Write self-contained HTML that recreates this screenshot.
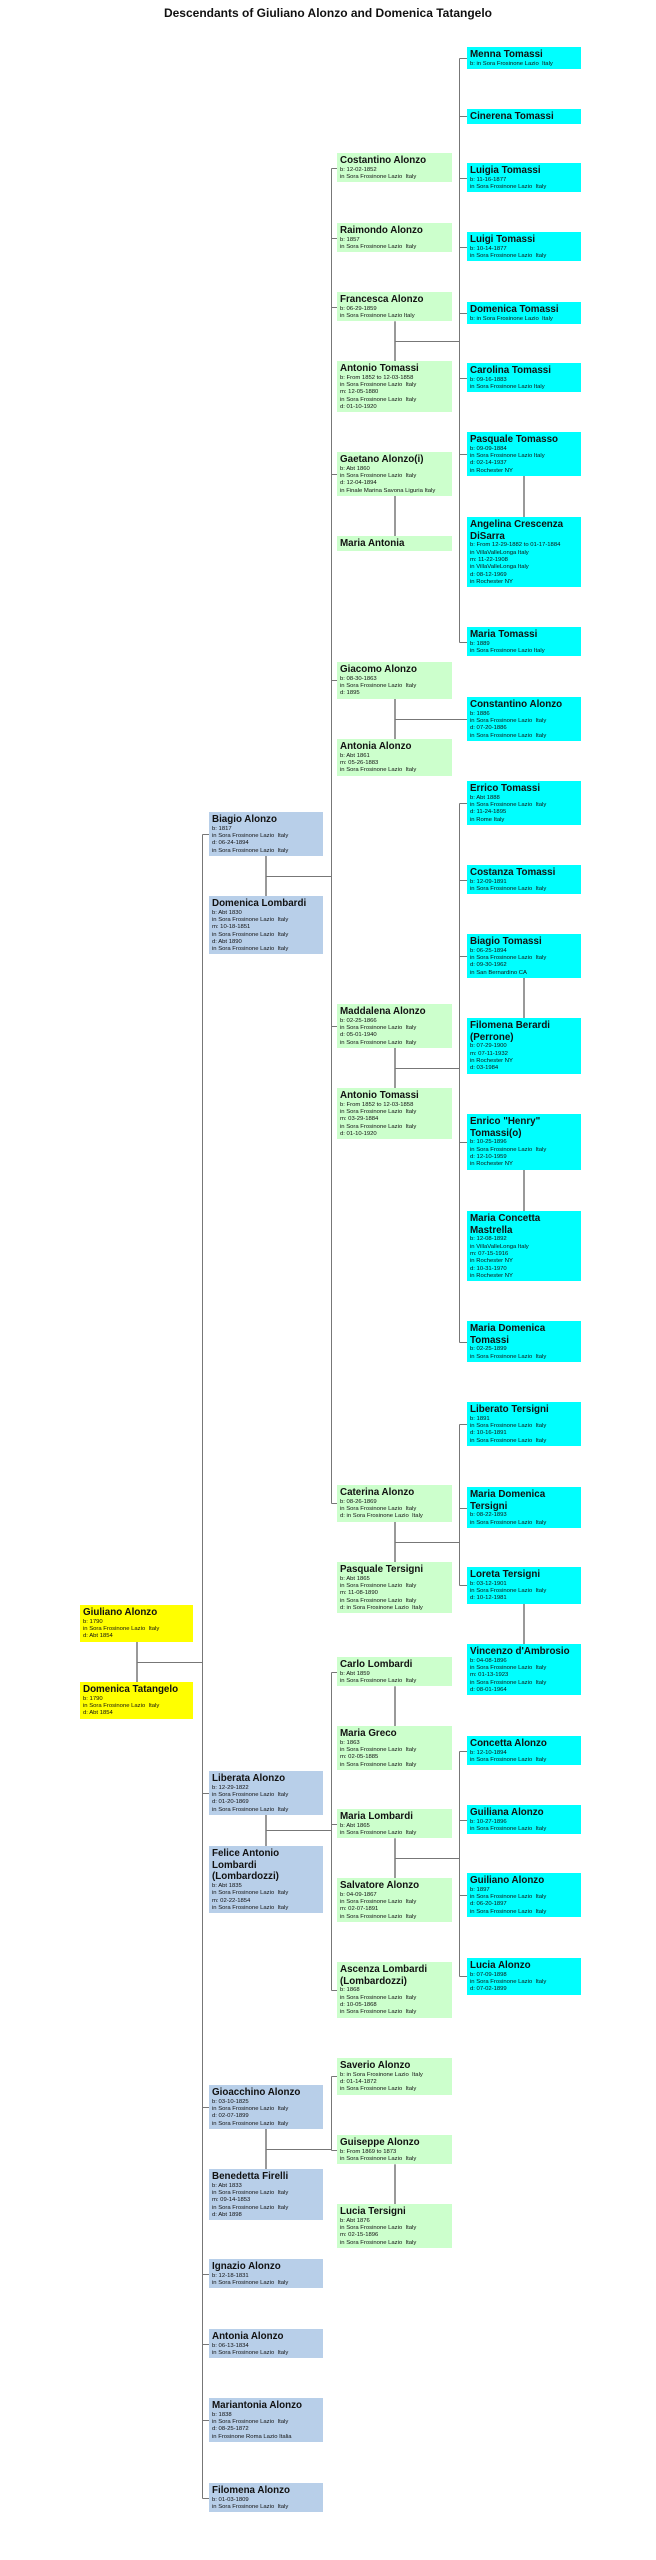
<!DOCTYPE html>
<html><head><meta charset="utf-8">
<style>
html,body{margin:0;padding:0;background:#fff;}
body{width:656px;height:2560px;position:relative;overflow:hidden;font-family:"Liberation Sans",Arial,sans-serif;color:#111;}
h1{position:absolute;top:6px;left:0;width:656px;text-align:center;font-size:12px;font-weight:bold;margin:0;line-height:14px;}
.b{position:absolute;box-sizing:border-box;padding:2px 3px 1px 3px;white-space:nowrap;}
.b .n{font-weight:bold;font-size:9.8px;line-height:11.7px;}
.b .d{font-size:5.9px;line-height:7.3px;white-space:pre;}
.y{left:80px;width:113px;background:#ffff00;}
.bl{left:209px;width:114px;background:#b8cfe9;}
.g{left:337px;width:115px;background:#ccffcc;}
.c{left:467px;width:114px;background:#00ffff;}
svg{position:absolute;left:0;top:0;}
</style></head><body>
<svg id="s" width="656" height="2560"></svg>
<h1>Descendants of Giuliano Alonzo and Domenica Tatangelo</h1>

<!-- yellow -->
<div class="b y" id="y1" style="top:1605px"><div class="n">Giuliano Alonzo</div><div class="d">b: 1790
in Sora Frosinone Lazio  Italy
d: Abt 1854</div></div>
<div class="b y" id="y2" style="top:1682px"><div class="n">Domenica Tatangelo</div><div class="d">b: 1790
in Sora Frosinone Lazio  Italy
d: Abt 1854</div></div>

<!-- blue -->
<div class="b bl" id="b1" style="top:812px"><div class="n">Biagio Alonzo</div><div class="d">b: 1817
in Sora Frosinone Lazio  Italy
d: 06-24-1894
in Sora Frosinone Lazio  Italy</div></div>
<div class="b bl" id="b1s" style="top:896px"><div class="n">Domenica Lombardi</div><div class="d">b: Abt 1830
in Sora Frosinone Lazio  Italy
m: 10-18-1851
in Sora Frosinone Lazio  Italy
d: Abt 1890
in Sora Frosinone Lazio  Italy</div></div>
<div class="b bl" id="b2" style="top:1771px"><div class="n">Liberata Alonzo</div><div class="d">b: 12-29-1822
in Sora Frosinone Lazio  Italy
d: 01-20-1869
in Sora Frosinone Lazio  Italy</div></div>
<div class="b bl" id="b2s" style="top:1846px"><div class="n">Felice Antonio<br>Lombardi<br>(Lombardozzi)</div><div class="d">b: Abt 1835
in Sora Frosinone Lazio  Italy
m: 02-22-1854
in Sora Frosinone Lazio  Italy</div></div>
<div class="b bl" id="b3" style="top:2085px"><div class="n">Gioacchino Alonzo</div><div class="d">b: 03-10-1825
in Sora Frosinone Lazio  Italy
d: 02-07-1899
in Sora Frosinone Lazio  Italy</div></div>
<div class="b bl" id="b3s" style="top:2169px"><div class="n">Benedetta Firelli</div><div class="d">b: Abt 1833
in Sora Frosinone Lazio  Italy
m: 09-14-1853
in Sora Frosinone Lazio  Italy
d: Abt 1898</div></div>
<div class="b bl" id="b4" style="top:2259px"><div class="n">Ignazio Alonzo</div><div class="d">b: 12-18-1831
in Sora Frosinone Lazio  Italy</div></div>
<div class="b bl" id="b5" style="top:2329px"><div class="n">Antonia Alonzo</div><div class="d">b: 06-13-1834
in Sora Frosinone Lazio  Italy</div></div>
<div class="b bl" id="b6" style="top:2398px"><div class="n">Mariantonia Alonzo</div><div class="d">b: 1838
in Sora Frosinone Lazio  Italy
d: 08-25-1872
in Frosinone Roma Lazio Italia</div></div>
<div class="b bl" id="b7" style="top:2483px"><div class="n">Filomena Alonzo</div><div class="d">b: 01-03-1809
in Sora Frosinone Lazio  Italy</div></div>

<!-- green -->
<div class="b g" id="g1" style="top:153px"><div class="n">Costantino Alonzo</div><div class="d">b: 12-02-1852
in Sora Frosinone Lazio  Italy</div></div>
<div class="b g" id="g2" style="top:223px"><div class="n">Raimondo Alonzo</div><div class="d">b: 1857
in Sora Frosinone Lazio  Italy</div></div>
<div class="b g" id="g3" style="top:292px"><div class="n">Francesca Alonzo</div><div class="d">b: 06-29-1859
in Sora Frosinone Lazio Italy</div></div>
<div class="b g" id="g3s" style="top:361px"><div class="n">Antonio Tomassi</div><div class="d">b: From 1852 to 12-03-1858
in Sora Frosinone Lazio  Italy
m: 12-05-1880
in Sora Frosinone Lazio  Italy
d: 01-10-1920</div></div>
<div class="b g" id="g4" style="top:452px"><div class="n">Gaetano Alonzo(i)</div><div class="d">b: Abt 1860
in Sora Frosinone Lazio  Italy
d: 12-04-1894
in Finale Marina Savona Liguria Italy</div></div>
<div class="b g" id="g4s" style="top:536px"><div class="n">Maria Antonia</div></div>
<div class="b g" id="g5" style="top:662px"><div class="n">Giacomo Alonzo</div><div class="d">b: 08-30-1863
in Sora Frosinone Lazio  Italy
d: 1895</div></div>
<div class="b g" id="g5s" style="top:739px"><div class="n">Antonia Alonzo</div><div class="d">b: Abt 1861
m: 05-26-1883
in Sora Frosinone Lazio  Italy</div></div>
<div class="b g" id="g6" style="top:1004px"><div class="n">Maddalena Alonzo</div><div class="d">b: 02-25-1866
in Sora Frosinone Lazio  Italy
d: 05-01-1940
in Sora Frosinone Lazio  Italy</div></div>
<div class="b g" id="g6s" style="top:1088px"><div class="n">Antonio Tomassi</div><div class="d">b: From 1852 to 12-03-1858
in Sora Frosinone Lazio  Italy
m: 03-29-1884
in Sora Frosinone Lazio  Italy
d: 01-10-1920</div></div>
<div class="b g" id="g7" style="top:1485px"><div class="n">Caterina Alonzo</div><div class="d">b: 08-26-1869
in Sora Frosinone Lazio  Italy
d: in Sora Frosinone Lazio  Italy</div></div>
<div class="b g" id="g7s" style="top:1562px"><div class="n">Pasquale Tersigni</div><div class="d">b: Abt 1865
in Sora Frosinone Lazio  Italy
m: 11-08-1890
in Sora Frosinone Lazio  Italy
d: in Sora Frosinone Lazio  Italy</div></div>
<div class="b g" id="h1" style="top:1657px"><div class="n">Carlo Lombardi</div><div class="d">b: Abt 1859
in Sora Frosinone Lazio  Italy</div></div>
<div class="b g" id="h1s" style="top:1726px"><div class="n">Maria Greco</div><div class="d">b: 1863
in Sora Frosinone Lazio  Italy
m: 02-05-1885
in Sora Frosinone Lazio  Italy</div></div>
<div class="b g" id="h2" style="top:1809px"><div class="n">Maria Lombardi</div><div class="d">b: Abt 1865
in Sora Frosinone Lazio  Italy</div></div>
<div class="b g" id="h2s" style="top:1878px"><div class="n">Salvatore Alonzo</div><div class="d">b: 04-09-1867
in Sora Frosinone Lazio  Italy
m: 02-07-1891
in Sora Frosinone Lazio  Italy</div></div>
<div class="b g" id="h3" style="top:1962px"><div class="n">Ascenza Lombardi<br>(Lombardozzi)</div><div class="d">b: 1868
in Sora Frosinone Lazio  Italy
d: 10-05-1868
in Sora Frosinone Lazio  Italy</div></div>
<div class="b g" id="k1" style="top:2058px"><div class="n">Saverio Alonzo</div><div class="d">b: in Sora Frosinone Lazio  Italy
d: 01-14-1872
in Sora Frosinone Lazio  Italy</div></div>
<div class="b g" id="k2" style="top:2135px"><div class="n">Guiseppe Alonzo</div><div class="d">b: From 1869 to 1873
in Sora Frosinone Lazio  Italy</div></div>
<div class="b g" id="k2s" style="top:2204px"><div class="n">Lucia Tersigni</div><div class="d">b: Abt 1876
in Sora Frosinone Lazio  Italy
m: 02-15-1896
in Sora Frosinone Lazio  Italy</div></div>

<!-- cyan -->
<div class="b c" id="c1" style="top:47px"><div class="n">Menna Tomassi</div><div class="d">b: in Sora Frosinone Lazio  Italy</div></div>
<div class="b c" id="c2" style="top:109px"><div class="n">Cinerena Tomassi</div></div>
<div class="b c" id="c3" style="top:163px"><div class="n">Luigia Tomassi</div><div class="d">b: 11-16-1877
in Sora Frosinone Lazio  Italy</div></div>
<div class="b c" id="c4" style="top:232px"><div class="n">Luigi Tomassi</div><div class="d">b: 10-14-1877
in Sora Frosinone Lazio  Italy</div></div>
<div class="b c" id="c5" style="top:302px"><div class="n">Domenica Tomassi</div><div class="d">b: in Sora Frosinone Lazio  Italy</div></div>
<div class="b c" id="c6" style="top:363px"><div class="n">Carolina Tomassi</div><div class="d">b: 09-16-1883
in Sora Frosinone Lazio Italy</div></div>
<div class="b c" id="c7" style="top:432px"><div class="n">Pasquale Tomasso</div><div class="d">b: 09-09-1884
in Sora Frosinone Lazio Italy
d: 02-14-1937
in Rochester NY</div></div>
<div class="b c" id="c7s" style="top:517px"><div class="n">Angelina Crescenza<br>DiSarra</div><div class="d">b: From 12-29-1882 to 01-17-1884
in VillaValleLonga Italy
m: 11-22-1908
in VillaValleLonga Italy
d: 08-12-1969
in Rochester NY</div></div>
<div class="b c" id="c8" style="top:627px"><div class="n">Maria Tomassi</div><div class="d">b: 1889
in Sora Frosinone Lazio Italy</div></div>
<div class="b c" id="c9" style="top:697px"><div class="n">Constantino Alonzo</div><div class="d">b: 1886
in Sora Frosinone Lazio  Italy
d: 07-20-1886
in Sora Frosinone Lazio  Italy</div></div>
<div class="b c" id="d1" style="top:781px"><div class="n">Errico Tomassi</div><div class="d">b: Abt 1888
in Sora Frosinone Lazio  Italy
d: 11-24-1895
in Rome Italy</div></div>
<div class="b c" id="d2" style="top:865px"><div class="n">Costanza Tomassi</div><div class="d">b: 12-09-1891
in Sora Frosinone Lazio  Italy</div></div>
<div class="b c" id="d3" style="top:934px"><div class="n">Biagio Tomassi</div><div class="d">b: 06-25-1894
in Sora Frosinone Lazio  Italy
d: 09-30-1962
in San Bernardino CA</div></div>
<div class="b c" id="d3s" style="top:1018px"><div class="n">Filomena Berardi<br>(Perrone)</div><div class="d">b: 07-29-1900
m: 07-11-1932
in Rochester NY
d: 03-1984</div></div>
<div class="b c" id="d4" style="top:1114px"><div class="n">Enrico "Henry"<br>Tomassi(o)</div><div class="d">b: 10-25-1896
in Sora Frosinone Lazio  Italy
d: 12-10-1959
in Rochester NY</div></div>
<div class="b c" id="d4s" style="top:1211px"><div class="n">Maria Concetta<br>Mastrella</div><div class="d">b: 12-08-1892
in VillaValleLonga Italy
m: 07-15-1916
in Rochester NY
d: 10-31-1970
in Rochester NY</div></div>
<div class="b c" id="d5" style="top:1321px"><div class="n">Maria Domenica<br>Tomassi</div><div class="d">b: 02-25-1899
in Sora Frosinone Lazio  Italy</div></div>
<div class="b c" id="e1" style="top:1402px"><div class="n">Liberato Tersigni</div><div class="d">b: 1891
in Sora Frosinone Lazio  Italy
d: 10-16-1891
in Sora Frosinone Lazio  Italy</div></div>
<div class="b c" id="e2" style="top:1487px"><div class="n">Maria Domenica<br>Tersigni</div><div class="d">b: 08-22-1893
in Sora Frosinone Lazio  Italy</div></div>
<div class="b c" id="e3" style="top:1567px"><div class="n">Loreta Tersigni</div><div class="d">b: 03-12-1901
in Sora Frosinone Lazio  Italy
d: 10-12-1981</div></div>
<div class="b c" id="e3s" style="top:1644px"><div class="n">Vincenzo d'Ambrosio</div><div class="d">b: 04-08-1896
in Sora Frosinone Lazio  Italy
m: 01-13-1923
in Sora Frosinone Lazio  Italy
d: 08-01-1964</div></div>
<div class="b c" id="f1" style="top:1736px"><div class="n">Concetta Alonzo</div><div class="d">b: 12-10-1894
in Sora Frosinone Lazio  Italy</div></div>
<div class="b c" id="f2" style="top:1805px"><div class="n">Guiliana Alonzo</div><div class="d">b: 10-27-1896
in Sora Frosinone Lazio  Italy</div></div>
<div class="b c" id="f3" style="top:1873px"><div class="n">Guiliano Alonzo</div><div class="d">b: 1897
in Sora Frosinone Lazio  Italy
d: 06-20-1897
in Sora Frosinone Lazio  Italy</div></div>
<div class="b c" id="f4" style="top:1958px"><div class="n">Lucia Alonzo</div><div class="d">b: 07-09-1898
in Sora Frosinone Lazio  Italy
d: 07-02-1899</div></div>

<script>
(function(){
var s=document.getElementById('s'),NS='http://www.w3.org/2000/svg';
function R(id){return document.getElementById(id).getBoundingClientRect();}
function L(x1,y1,x2,y2,w,c){var l=document.createElementNS(NS,'line');l.setAttribute('x1',x1);l.setAttribute('y1',y1);l.setAttribute('x2',x2);l.setAttribute('y2',y2);l.setAttribute('stroke',c);l.setAttribute('stroke-width',w);s.appendChild(l);}
var couples=[['y1','y2'],['b1','b1s'],['b2','b2s'],['b3','b3s'],['g3','g3s'],['g4','g4s'],['g5','g5s'],['g6','g6s'],['g7','g7s'],['h1','h1s'],['h2','h2s'],['k2','k2s'],['c7','c7s'],['d3','d3s'],['d4','d4s'],['e3','e3s']];
couples.forEach(function(p){var a=R(p[0]),b=R(p[1]);var x=Math.round(a.left+a.width/2);L(x,a.bottom,x,b.top,2,'#999');});
var fams=[
 [['y1','y2'],202,['b1','b2','b3','b4','b5','b6','b7']],
 [['b1','b1s'],331,['g1','g2','g3','g4','g5','g6','g7']],
 [['b2','b2s'],331,['h1','h2','h3']],
 [['b3','b3s'],331,['k1','k2']],
 [['g3','g3s'],459,['c1','c2','c3','c4','c5','c6','c7','c8']],
 [['g5','g5s'],null,['c9']],
 [['g6','g6s'],459,['d1','d2','d3','d4','d5']],
 [['g7','g7s'],459,['e1','e2','e3']],
 [['h2','h2s'],459,['f1','f2','f3','f4']]
];
fams.forEach(function(f){
 var a=R(f[0][0]),b=R(f[0][1]);var cx=Math.round(a.left+a.width/2);var my=Math.round((a.bottom+b.top)/2)+0.5;
 if(f[1]===null){var c=R(f[2][0]);L(cx,my,c.left,my,1,'#777');return;}
 var lx=f[1]+0.5;L(cx,my,lx,my,1,'#777');
 var mn=my,mx=my;
 f[2].forEach(function(id){var c=R(id);var y=Math.round(c.top+c.height/2)+0.5;mn=Math.min(mn,y);mx=Math.max(mx,y);L(lx,y,c.left,y,1,'#777');});
 L(lx,mn,lx,mx,1,'#777');
});
})();
</script>
</body></html>
